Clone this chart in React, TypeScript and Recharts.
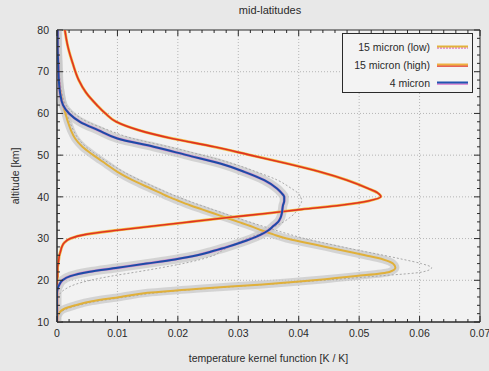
import { LineChart, Line, XAxis, YAxis, CartesianGrid, ReferenceLine, ReferenceArea, Label } from "recharts"

// altitude grid [km], top of the plot first
const ALTITUDE = [80, 76, 72, 68, 65, 62, 60, 58, 56, 54, 52, 50, 48, 46, 44, 42, 41, 40, 39, 38, 37, 36, 35, 34, 33, 32, 31, 30, 29, 28, 27, 26, 25, 24, 23, 22, 21, 20, 19, 18, 17, 16, 15, 14, 13, 12, 11, 10]

// temperature kernel functions [K / K]
const K_LOW = [0, 0.0001, 0.0002, 0.0003, 0.0006, 0.001, 0.0014, 0.0018, 0.0023, 0.003, 0.0042, 0.006, 0.008, 0.01, 0.0125, 0.0155, 0.017, 0.0185, 0.0202, 0.022, 0.024, 0.026, 0.028, 0.03, 0.032, 0.0338, 0.0358, 0.038, 0.0412, 0.0445, 0.0477, 0.051, 0.054, 0.0556, 0.056, 0.055, 0.0495, 0.0425, 0.034, 0.0235, 0.015, 0.0105, 0.0058, 0.003, 0.001, 0.0003, 0, 0]
const K_HIGH = [0.0013, 0.0018, 0.0026, 0.0036, 0.0048, 0.0066, 0.008, 0.0098, 0.0135, 0.019, 0.026, 0.032, 0.038, 0.0435, 0.048, 0.0515, 0.053, 0.0536, 0.0515, 0.047, 0.0405, 0.0345, 0.028, 0.022, 0.016, 0.01, 0.0048, 0.0022, 0.0012, 0.0008, 0.0006, 0.0004, 0.0003, 0.0002, 0.0001, 0.0001, 0.0001, 0, 0, 0, 0, 0, 0, 0, 0, 0, 0, 0]
const K_4UM = [0.0001, 0.0001, 0.0002, 0.0003, 0.0005, 0.001, 0.002, 0.0038, 0.0068, 0.01, 0.016, 0.0215, 0.027, 0.031, 0.0343, 0.0364, 0.0371, 0.0376, 0.0376, 0.0374, 0.0373, 0.0372, 0.037, 0.0366, 0.0358, 0.035, 0.0338, 0.0322, 0.0303, 0.0282, 0.0258, 0.0232, 0.0195, 0.0148, 0.01, 0.0052, 0.0022, 0.0009, 0.0004, 0.0001, 0, 0, 0, 0, 0, 0, 0, 0]
// outer members of the grey ensemble
const K_LOW_SPREAD = [0, 0.0001, 0.0002, 0.0004, 0.0007, 0.0012, 0.0016, 0.0021, 0.0027, 0.0035, 0.0048, 0.0066, 0.0087, 0.011, 0.0137, 0.0167, 0.0183, 0.02, 0.0218, 0.0237, 0.0257, 0.0277, 0.0297, 0.0318, 0.034, 0.0362, 0.0385, 0.041, 0.044, 0.0472, 0.0505, 0.054, 0.0573, 0.0603, 0.062, 0.0605, 0.053, 0.044, 0.0345, 0.0245, 0.0165, 0.0115, 0.0068, 0.0036, 0.0014, 0.0004, 0, 0]
const K_4UM_SPREAD = [0.0001, 0.0002, 0.0003, 0.0005, 0.0008, 0.0015, 0.0028, 0.005, 0.0085, 0.0125, 0.0185, 0.024, 0.029, 0.033, 0.0365, 0.0388, 0.0398, 0.0403, 0.0405, 0.0402, 0.0398, 0.0393, 0.0385, 0.0375, 0.0362, 0.0348, 0.0332, 0.0315, 0.0298, 0.0285, 0.0272, 0.026, 0.0238, 0.0208, 0.0172, 0.0132, 0.009, 0.0055, 0.003, 0.0015, 0.0006, 0.0002, 0, 0, 0, 0, 0, 0]

const X_TICKS = [0, 0.01, 0.02, 0.03, 0.04, 0.05, 0.06, 0.07]
const Y_TICKS = [10, 20, 30, 40, 50, 60, 70, 80]
const X_MINOR = Array.from({ length: 36 }, (_, i) => +(i * 0.002).toFixed(3))
const Y_MINOR = Array.from({ length: 36 }, (_, i) => 10 + i * 2)

const LEGEND = [
  { label: "15 micron (low)", under: "#e07cc8", over: "#e2b23a", dashedUnder: true },
  { label: "15 micron (high)", under: "#e03224", over: "#eeb040", dashedUnder: false },
  { label: "4 micron", under: "#d874cc", over: "#1f55b0", dashedUnder: false },
]

const rows = ALTITUDE.map((alt, i) => ({
  alt,
  low: K_LOW[i],
  high: K_HIGH[i],
  um4: K_4UM[i],
  lowSpread: K_LOW_SPREAD[i],
  um4Spread: K_4UM_SPREAD[i],
}))

const PLOT_TOP = 30
const PLOT_BOTTOM = 322
const PLOT_LEFT = 57
const PLOT_RIGHT = 480
const FONT = '"Liberation Sans", Arial, sans-serif'
const INK = "#2a2a2a"

function isMajor(list: number[], v: number) {
  return list.some((t) => Math.abs(t - v) < 1e-9)
}

function XTick(props: any) {
  const { x, y, payload } = props
  const v = payload.value
  const major = isMajor(X_TICKS, v)
  const len = major ? 6 : 3
  return (
    <g>
      <line x1={x} x2={x} y1={PLOT_BOTTOM} y2={PLOT_BOTTOM - len} stroke={INK} />
      <line x1={x} x2={x} y1={PLOT_TOP} y2={PLOT_TOP + len} stroke={INK} />
      {major && (
        <text x={x} y={y} dy="0.71em" textAnchor="middle" fill={INK} fontSize={10.5} fontFamily={FONT}>
          {v === 0 ? "0" : v.toFixed(2)}
        </text>
      )}
    </g>
  )
}

function YTick(props: any) {
  const { x, y, payload } = props
  const v = payload.value
  const major = isMajor(Y_TICKS, v)
  const len = major ? 6 : 3
  return (
    <g>
      <line x1={PLOT_LEFT} x2={PLOT_LEFT + len} y1={y} y2={y} stroke={INK} />
      <line x1={PLOT_RIGHT} x2={PLOT_RIGHT - len} y1={y} y2={y} stroke={INK} />
      {major && (
        <text x={x} y={y} dy="0.35em" textAnchor="end" fill={INK} fontSize={10.5} fontFamily={FONT}>
          {v}
        </text>
      )}
    </g>
  )
}

function LegendBox() {
  return (
    <svg width={131} height={60} style={{ position: "absolute", left: 342, top: 33 }}>
      <rect x={0.5} y={0.5} width={130} height={59} fill="#f3f3f3" stroke={INK} />
      {LEGEND.map((e, i) => {
        const cy = 14 + i * 18
        return (
          <g key={e.label}>
            <text x={88} y={cy} dy="0.35em" textAnchor="end" fill={INK} fontSize={10.5} fontFamily={FONT}>
              {e.label}
            </text>
            <line x1={95} x2={126} y1={cy + 1} y2={cy + 1} stroke={e.under} strokeWidth={1.5} strokeDasharray={e.dashedUnder ? "2 1" : undefined} />
            <line x1={95} x2={126} y1={cy - 0.5} y2={cy - 0.5} stroke={e.over} strokeWidth={2} />
          </g>
        )
      })}
    </svg>
  )
}

export default function App() {
  return (
    <div style={{ position: "absolute", left: 0, top: 0, width: 489, height: 371, background: "#e8e8e8", fontFamily: FONT }}>
      <div style={{ position: "absolute", left: 200, width: 140, top: 4, textAlign: "center", fontSize: 11, color: INK }}>
        mid-latitudes
      </div>
      <LineChart width={489} height={371} layout="vertical" data={rows} margin={{ top: PLOT_TOP, right: 489 - PLOT_RIGHT, bottom: 0, left: 0 }}>
        <CartesianGrid horizontal={false} vertical={false} fill="#f2f2f2" />
        {X_TICKS.slice(1, -1).map((v) => (
          <ReferenceLine key={"gx" + v} x={v} stroke="#b5b5b5" strokeDasharray="1 2" />
        ))}
        {Y_TICKS.slice(1, -1).map((v) => (
          <ReferenceLine key={"gy" + v} y={v} stroke="#b5b5b5" strokeDasharray="1 2" />
        ))}
        <XAxis
          type="number"
          domain={[0, 0.07]}
          ticks={X_MINOR}
          interval={0}
          allowDataOverflow
          height={371 - PLOT_BOTTOM}
          tick={<XTick />}
          tickLine={false}
          axisLine={{ stroke: INK }}
        >
          <Label value="temperature kernel function [K / K]" position="insideBottom" offset={9} fill={INK} fontSize={10.5} fontFamily={FONT} />
        </XAxis>
        <YAxis
          type="number"
          dataKey="alt"
          domain={[10, 80]}
          reversed
          ticks={Y_MINOR}
          interval={0}
          allowDataOverflow
          width={PLOT_LEFT}
          tick={<YTick />}
          tickLine={false}
          axisLine={{ stroke: INK }}
        >
          <Label value="altitude [km]" angle={-90} position="insideLeft" offset={15} fill={INK} fontSize={10.5} fontFamily={FONT} style={{ textAnchor: "middle" }} />
        </YAxis>
        <ReferenceArea x1={0} x2={0.07} y1={10} y2={80} fill="none" stroke={INK} strokeWidth={1} />

        {/* grey ensemble */}
        <Line dataKey="low" type="monotone" dot={false} stroke="#c6c6c6" strokeWidth={8} strokeOpacity={0.7} isAnimationActive={false} legendType="none" />
        <Line dataKey="um4" type="monotone" dot={false} stroke="#c6c6c6" strokeWidth={9} strokeOpacity={0.7} isAnimationActive={false} legendType="none" />
        <Line dataKey="lowSpread" type="monotone" dot={false} stroke="#a8a8a8" strokeWidth={1} strokeDasharray="2 2" isAnimationActive={false} legendType="none" />
        <Line dataKey="um4Spread" type="monotone" dot={false} stroke="#a8a8a8" strokeWidth={1} strokeDasharray="2 2" isAnimationActive={false} legendType="none" />

        {/* 15 micron (low) */}
        <Line dataKey="low" type="monotone" dot={false} stroke="#e0b03a" strokeWidth={2} isAnimationActive={false} legendType="none" />
        {/* 15 micron (high) */}
        <Line dataKey="high" type="monotone" dot={false} stroke="#f0bc40" strokeWidth={2.8} isAnimationActive={false} legendType="none" />
        <Line dataKey="high" type="monotone" dot={false} stroke="#e03224" strokeWidth={1.6} isAnimationActive={false} legendType="none" />
        {/* 4 micron */}
        <Line dataKey="um4" type="monotone" dot={false} stroke="#d874cc" strokeWidth={2.8} strokeOpacity={0.8} isAnimationActive={false} legendType="none" />
        <Line dataKey="um4" type="monotone" dot={false} stroke="#1c4ca6" strokeWidth={2} isAnimationActive={false} legendType="none" />
      </LineChart>
      <LegendBox />
    </div>
  )
}
